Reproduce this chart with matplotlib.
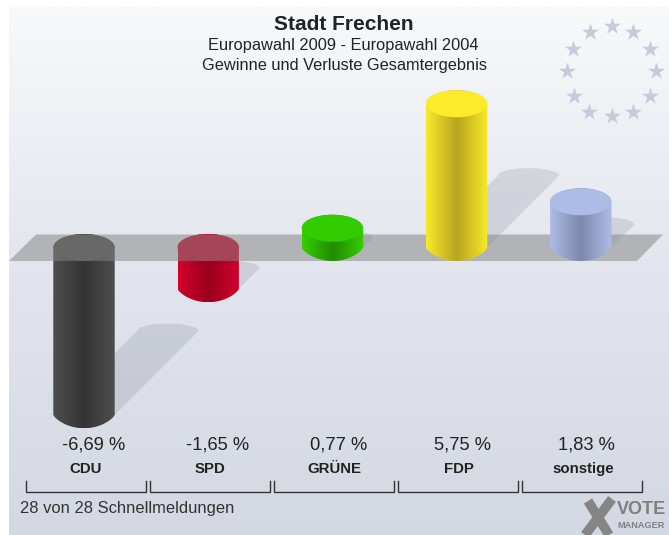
import numpy as np
import matplotlib
matplotlib.use("Agg")
import matplotlib.pyplot as plt
from matplotlib.colors import LinearSegmentedColormap
from matplotlib.patches import Polygon, Ellipse

plt.rcParams['font.family'] = ['Liberation Sans', 'DejaVu Sans']

parties = ["CDU", "SPD", "GRÜNE", "FDP", "sonstige"]
values = [-6.69, -1.65, 0.77, 5.75, 1.83]
value_labels = ["-6,69 %", "-1,65 %", "0,77 %", "5,75 %", "1,83 %"]
edge_colors = ["#4e4e4e", "#d4002c", "#35cf00", "#f8ea2a", "#aebce6"]
mid_colors = ["#343434", "#98001c", "#228a00", "#b8a41e", "#7c89ad"]
cap_colors = ["#4a4a4a", "#c8002a", "#33cc00", "#fdea2b", "#acbce6"]
title = "Stadt Frechen"
subtitle = ["Europawahl 2009 - Europawahl 2004", "Gewinne und Verluste Gesamtergebnis"]
footer = "28 von 28 Schnellmeldungen"

W, H = 669, 535
X0, DX = 84.0, 124.2     # pixel of first category, pixels per category
Y0, PPU = 247.5, 25.0    # pixel of zero line, pixels per percent
RX, RY = 30.7 / DX, 13.5 / PPU

fig = plt.figure(figsize=(W / 100, H / 100), dpi=100, facecolor="white")

# pixel-space axes for the backdrop and annotations
bg = fig.add_axes([0, 0, 1, 1], zorder=0)
bg.set_xlim(0, W); bg.set_ylim(H, 0); bg.axis("off")
grad = np.linspace(0, 1, 256).reshape(-1, 1)
bg_cmap = LinearSegmentedColormap.from_list("bg", ["#f8f9fb", "#e2e5ed", "#d4d8e2"])
bg.imshow(grad, cmap=bg_cmap, extent=(9, W, H, 7), aspect="auto", interpolation="bilinear")
bg.set_xlim(0, W); bg.set_ylim(H, 0)

star_x = [612, 633, 650, 656, 650, 633, 612, 589, 574, 567, 573, 590]
star_y = [26, 32, 49, 71, 96, 112, 116, 112, 96, 71, 49, 32]
bg.scatter(star_x, star_y, marker="*", s=165, color="#c6cbdb", linewidths=0)

# data axes: x is category index, y is percent
ax = fig.add_axes([0, 0, 1, 1], zorder=1)
ax.patch.set_alpha(0)
xlim = (-X0 / DX, (W - X0) / DX)
ylim = (-(H - Y0) / PPU, Y0 / PPU)
ax.axis("off")

t = np.linspace(0, np.pi, 60)


def shadow(i, v):
    h = abs(v) / 2
    start = v if v < 0 else 0
    cx = i + h * PPU / DX
    cy = start + h
    ry = 7.5 / PPU
    end_x = cx + RX * np.cos(t)
    end_y = cy + ry * np.sin(t)
    xs = np.r_[i + RX, end_x, i - RX]
    ys = np.r_[start, end_y, start]
    ax.add_patch(Polygon(np.c_[xs, ys], closed=True, fc="#50566a", ec="none", alpha=0.15, zorder=1))


def cylinder(i, v, z):
    lo, hi = min(v, 0), max(v, 0)
    xs = np.r_[i + RX * np.cos(t), i - RX * np.cos(t)]
    ys = np.r_[hi + RY * np.sin(t), lo - RY * np.sin(t) ** 1.5]
    poly = Polygon(np.c_[xs, ys], closed=True, fc="none", ec="none", zorder=z)
    ax.add_patch(poly)
    cmap = LinearSegmentedColormap.from_list("c", [edge_colors[i], mid_colors[i], edge_colors[i]])
    g = np.linspace(0, 1, 128).reshape(1, -1)
    im = ax.imshow(g, cmap=cmap, extent=(i - RX, i + RX, lo - RY, hi + RY), aspect="auto", zorder=z, interpolation="bilinear")
    im.set_clip_path(poly)
    ax.add_patch(Ellipse((i, hi), 2 * RX, 2 * RY, fc=cap_colors[i], ec="none", zorder=z + 0.1))


for i, v in enumerate(values):
    shadow(i, v)
for i, v in enumerate(values):
    if v < 0:
        cylinder(i, v, 2)

ax.add_patch(Polygon([(36, 234.5), (663, 234.5), (637, 261), (9, 261)], closed=True,
                     transform=bg.transData, fc="#858585", ec="none", alpha=0.52, zorder=3))

for i, v in enumerate(values):
    if v > 0:
        cylinder(i, v, 4)
ax.set_xlim(*xlim); ax.set_ylim(*ylim)

# titles
bg2 = fig.add_axes([0, 0, 1, 1], zorder=2)
bg2.set_xlim(0, W); bg2.set_ylim(H, 0); bg2.axis("off")
bg2.text(344, 24.5, title, ha="center", va="center", fontsize=15, fontweight="bold", color="#222222")
bg2.text(343, 45.5, subtitle[0], ha="center", va="center", fontsize=11.8, color="#222222")
bg2.text(345, 65.5, subtitle[1], ha="center", va="center", fontsize=11.8, color="#222222")

for i in range(len(parties)):
    px = X0 + i * DX
    bg2.text(62 + i * 124, 445, value_labels[i], ha="left", va="center", fontsize=13.2, color="#222222")
    bg2.text(px + 2, 469, parties[i], ha="center", va="center", fontsize=10.8, fontweight="bold", color="#222222")
    l, r = 26 + i * 124, 146 + i * 124
    bg2.plot([l, l, r, r], [481, 492, 492, 481], color="#333333", lw=1.0, solid_joinstyle="miter")

bg2.text(20, 508, footer, ha="left", va="center", fontsize=11.9, color="#333333")

# logo
bg2.plot([588, 609], [501, 535], color="#858585", lw=7, solid_capstyle="butt")
bg2.plot([612, 585], [499, 535], color="#858585", lw=7, solid_capstyle="butt")
bg2.text(617, 510, "VOTE", ha="left", va="center", fontsize=13, fontweight="bold", color="#7f7f7f")
bg2.text(617, 526, "MANAGER", ha="left", va="center", fontsize=6.6, fontweight="bold", color="#7f7f7f")

fig.savefig("out.png", dpi=100)
